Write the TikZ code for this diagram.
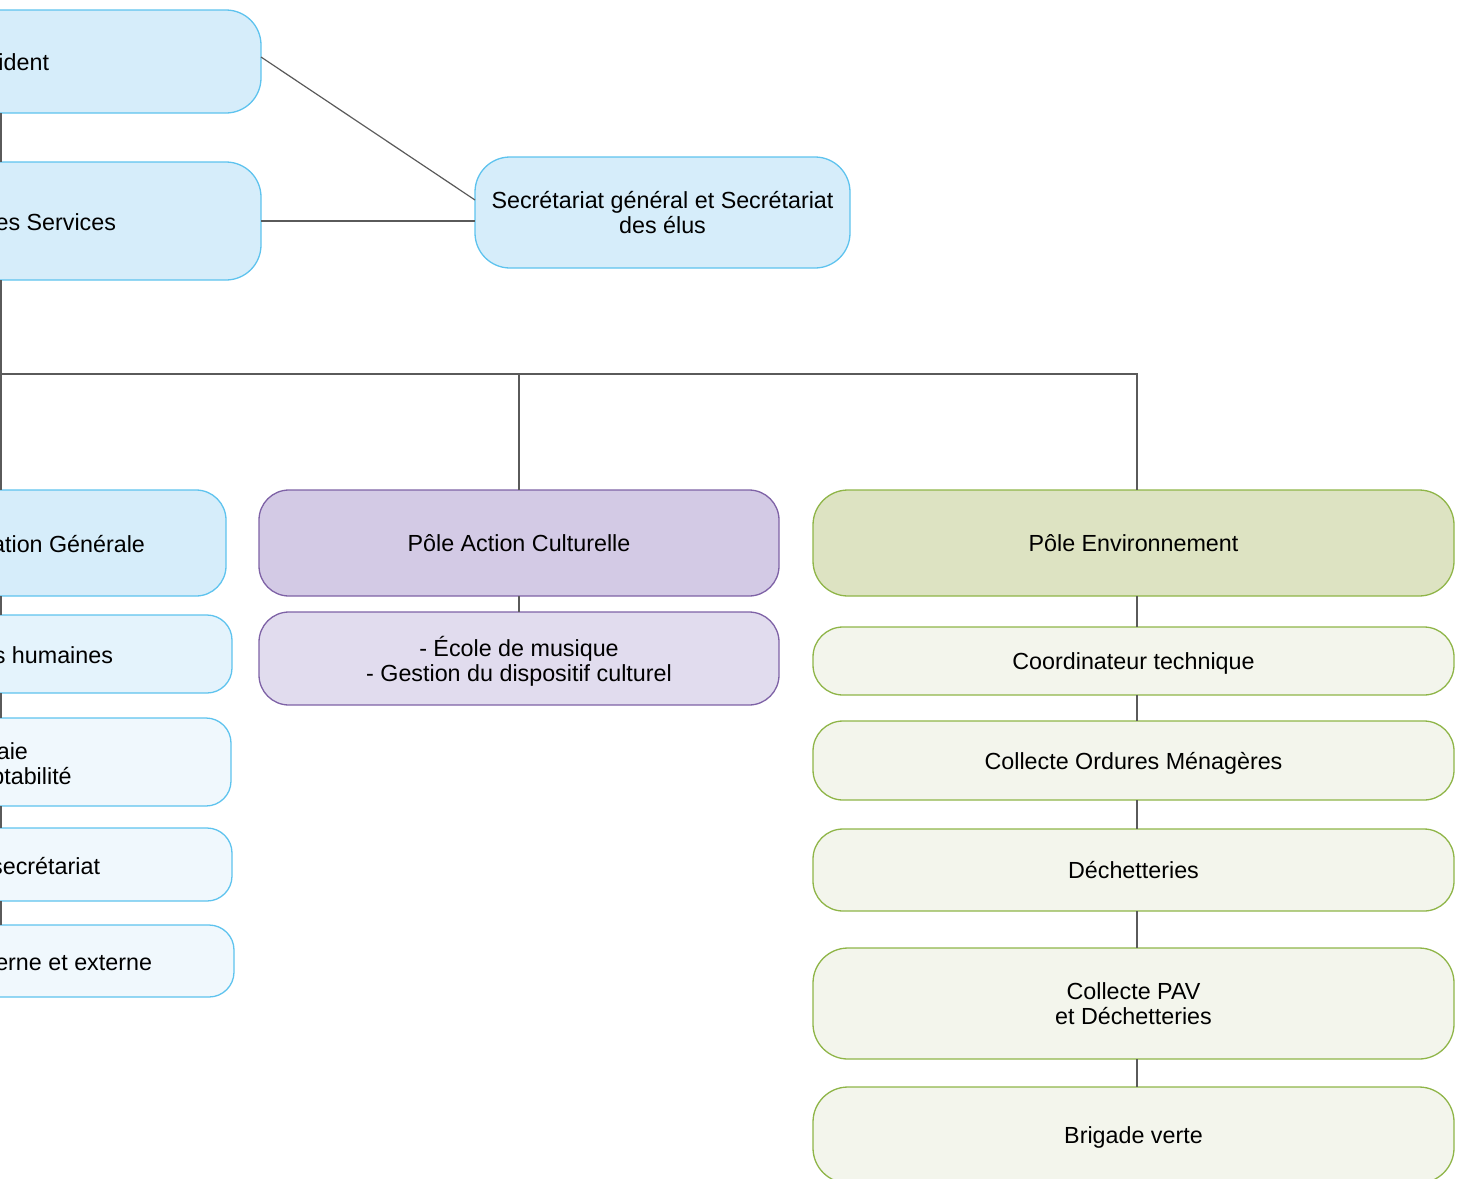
\documentclass[tikz,border=0pt]{standalone}
\usepackage{fontspec}
\setmainfont{Liberation Sans}
\usetikzlibrary{calc}
\definecolor{bfill}{HTML}{D6EDFA}
\definecolor{bfillb}{HTML}{E4F3FC}
\definecolor{bfillc}{HTML}{F0F8FD}
\definecolor{bline}{HTML}{5EC3EE}
\definecolor{pfill}{HTML}{D3CAE5}
\definecolor{pfillb}{HTML}{E1DCEE}
\definecolor{pline}{HTML}{7E62A6}
\definecolor{gfill}{HTML}{DDE3C2}
\definecolor{gfillb}{HTML}{F3F5EC}
\definecolor{gline}{HTML}{8FB548}
\definecolor{cline}{HTML}{5A5A5A}
\begin{document}
\begin{tikzpicture}[x=1pt,y=-1pt,
  box/.style={rectangle,draw,line width=1.3pt,inner sep=0pt,outer sep=0pt,align=center,
    text depth=0pt,font=\fontsize{23.3}{25}\selectfont},
  bbox/.style={box,draw=bline,fill=bfill},
  bboxb/.style={box,draw=bline,fill=bfillb},
  bboxc/.style={box,draw=bline,fill=bfillc},
  pbox/.style={box,draw=pline,fill=pfill},
  pboxb/.style={box,draw=pline,fill=pfillb},
  gbox/.style={box,draw=gline,fill=gfill},
  gboxb/.style={box,draw=gline,fill=gfillb},
  txt/.style={inner sep=0pt,outer sep=0pt,font=\fontsize{23.3}{25}\selectfont},
  conn/.style={draw=cline,line width=1.2pt}]
\useasboundingbox (0,0) rectangle (1461,1178);
\clip (0,0) rectangle (1461,1178);

% left column (cropped)
\node[bbox,minimum width=520,minimum height=103,rounded corners=35] (pres) at (1,61.5) {};
\node[bbox,minimum width=520,minimum height=118,rounded corners=35] (dgs) at (1,221) {};
\node[bbox,minimum width=450,minimum height=106,rounded corners=30] (admin) at (1,543) {};
\node[bboxb,minimum width=462,minimum height=78,rounded corners=25] (rh) at (1,654) {};
\node[bboxc,minimum width=460,minimum height=88,rounded corners=25] (paie) at (1,762) {};
\node[bboxc,minimum width=462,minimum height=73,rounded corners=25] (acc) at (1,864.5) {};
\node[bboxc,minimum width=466,minimum height=72,rounded corners=25] (comm) at (1,961) {};

\node[txt,anchor=base east] (pres-t) at (49,70) {ident};
\node[txt,anchor=base east] (dgs-t) at (116,230) {es Services};
\node[txt,anchor=base east] (admin-t) at (145,552) {ation Générale};
\node[txt,anchor=base east] (rh-t) at (113,663) {s humaines};
\node[txt,anchor=west,align=left] (paie-t) at (-8.6,766) {\hspace{5.4pt}aie\\ptabilité};
\node[txt,anchor=base east] (acc-t) at (100,874) {secrétariat};
\node[txt,anchor=base east] (comm-t) at (152,970) {erne et externe};

% secretariat
\node[bbox,minimum width=375,minimum height=111,rounded corners=35] (secr) at (662.5,212.5)
  {Secrétariat général et Secrétariat\\des élus};

% culture
\node[pbox,minimum width=520,minimum height=106,rounded corners=30] (cult) at (519,543) {Pôle Action Culturelle};
\node[pboxb,minimum width=520,minimum height=93,rounded corners=30] (ecole) at (519,658.5)
  {- École de musique\\- Gestion du dispositif culturel};

% environment
\node[gbox,minimum width=641,minimum height=106,rounded corners=35] (env) at (1133.5,543) {Pôle Environnement};
\node[gboxb,minimum width=641,minimum height=68,rounded corners=30] (coord) at (1133.5,661) {Coordinateur technique};
\node[gboxb,minimum width=641,minimum height=79,rounded corners=30] (om) at (1133.5,760.5) {Collecte Ordures Ménagères};
\node[gboxb,minimum width=641,minimum height=82,rounded corners=30] (dech) at (1133.5,870) {Déchetteries};
\node[gboxb,minimum width=641,minimum height=111,rounded corners=35] (pav) at (1133.5,1003.5) {Collecte PAV\\et Déchetteries};
\node[gboxb,minimum width=641,minimum height=96,rounded corners=35] (brig) at (1133.5,1135) {Brigade verte};

\coordinate (bus) at (1,374);

% connectors
\path[conn] (pres.south) -- (dgs.north);
\path[conn] ([yshift=4.5]pres.east) -- ([yshift=12.5]secr.west);
\path[conn] (dgs.east) -- (dgs.east -| secr.west);
\path[conn] (dgs.south) -- (admin.north);
\path[conn] (bus) -| ([xshift=3.5]env.north);
\path[conn] (cult.north) -- (cult.north |- bus);
\foreach \a/\b in {admin/rh,rh/paie,paie/acc,acc/comm,cult/ecole}
  \path[conn] (\a.south) -- (\b.north);
\foreach \a/\b in {env/coord,coord/om,om/dech,dech/pav,pav/brig}
  \path[conn] ([xshift=3.5]\a.south) -- ([xshift=3.5]\b.north);
\end{tikzpicture}
\end{document}
